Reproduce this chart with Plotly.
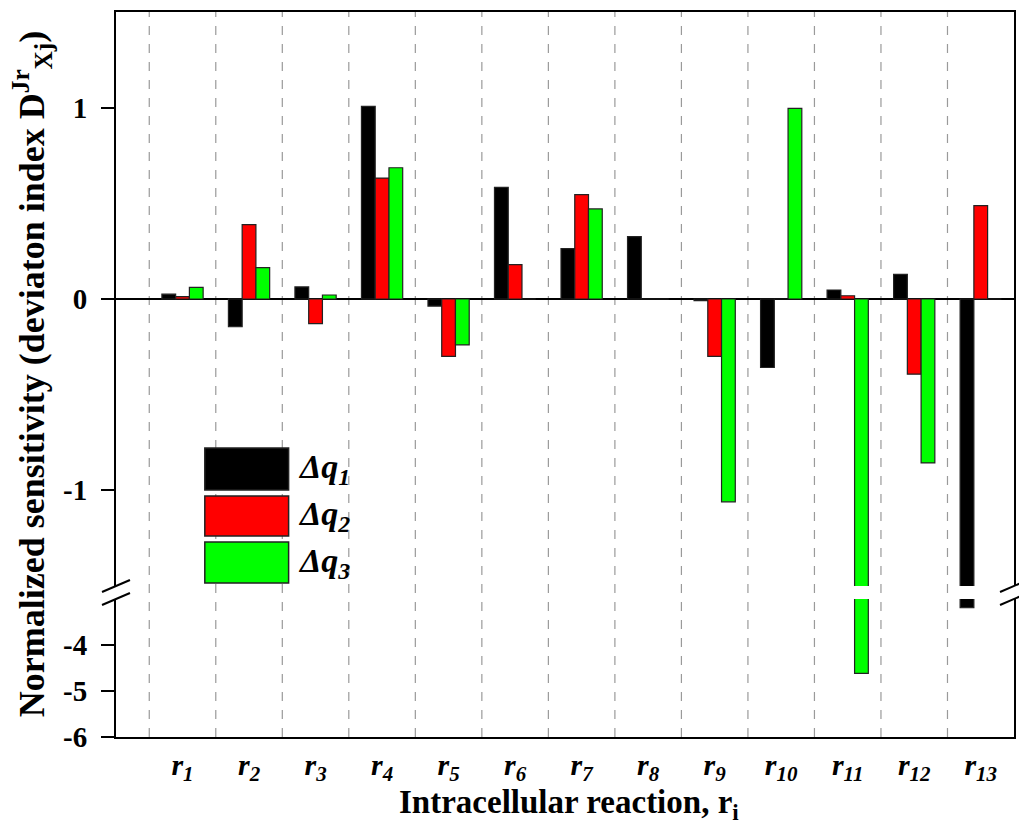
import plotly.graph_objects as go

# ---------------- data ----------------
categories = ["r1", "r2", "r3", "r4", "r5", "r6", "r7", "r8", "r9", "r10", "r11", "r12", "r13"]
tick_labels = ["<i>r<sub>%s</sub></i>" % c[1:] for c in categories]
q1 = [0.025, -0.145, 0.063, 1.007, -0.037, 0.583, 0.263, 0.326, -0.008, -0.358, 0.047, 0.129, -3.19]
q2 = [0.012, 0.389, -0.129, 0.632, -0.300, 0.180, 0.546, 0.0, -0.300, 0.0, 0.017, -0.393, 0.488]
q3 = [0.061, 0.164, 0.021, 0.686, -0.240, 0.0, 0.471, 0.0, -1.060, 0.996, -4.615, -0.857, 0.0]
series_names = ["Δq<sub>1</sub>", "Δq<sub>2</sub>", "Δq<sub>3</sub>"]
colors = ["#000000", "#FF0000", "#00FF00"]
upper_range = [-1.5, 1.5]
lower_range = [-6, -3]
upper_ticks = [-1, 0, 1]
lower_ticks = [-6, -5, -4]

# ---------------- geometry (pixels) ----------------
W, H = 1019, 827
ML, MR, MT, MB = 116, 3, 12, 90
PW, PH = W - ML - MR, H - MT - MB
upper_px, gap_px, lower_px = 574, 13, 138
lower_dom = [0, lower_px / PH]
upper_dom = [(lower_px + gap_px) / PH, 1]

FONT = "Liberation Serif"
x = list(range(1, len(categories) + 1))

fig = go.Figure()
for vals, name, col in zip([q1, q2, q3], series_names, colors):
    for xa, ya in (("x2", "y"), ("x", "y2")):
        fig.add_trace(go.Bar(
            x=x, y=vals, name=name, xaxis=xa, yaxis=ya,
            marker=dict(color=col, line=dict(color="#222222", width=1.2)),
            showlegend=False,
        ))

axis_line = dict(showline=True, linecolor="black", linewidth=2)
ytick_font = dict(family=FONT, size=29, weight="bold", color="black")
fig.update_layout(
    width=W, height=H,
    margin=dict(l=ML, r=MR, t=MT, b=MB),
    paper_bgcolor="white", plot_bgcolor="white",
    barmode="group", bargap=0.38, bargroupgap=0,
    font=dict(family=FONT, color="black"),
    xaxis=dict(domain=[0, 1], anchor="y2", range=[0, len(categories) + 0.5],
               tickvals=x, ticktext=tick_labels, ticks="", showgrid=False, zeroline=False,
               tickfont=dict(family=FONT, size=30, weight="bold"), ticklabelstandoff=0,
               **axis_line),
    xaxis2=dict(matches="x", anchor="y", side="top", showticklabels=False, ticks="",
                showgrid=False, zeroline=False, **axis_line),
    yaxis=dict(domain=upper_dom, anchor="x2", range=upper_range, tickvals=upper_ticks,
               ticktext=[str(v) for v in upper_ticks],
               ticks="outside", ticklen=13, tickwidth=2, tickcolor="black",
               showgrid=False, zeroline=True, zerolinecolor="black", zerolinewidth=2,
               mirror=True, tickfont=ytick_font, ticklabelstandoff=8, **axis_line),
    yaxis2=dict(domain=lower_dom, anchor="x", range=lower_range, tickvals=lower_ticks,
                ticktext=[str(v) for v in lower_ticks],
                ticks="outside", ticklen=13, tickwidth=2, tickcolor="black",
                showgrid=False, zeroline=False, mirror=True,
                tickfont=ytick_font, ticklabelstandoff=8, **axis_line),
)

shapes = []
# dashed category separators spanning the whole (broken) plot height
for i in range(len(categories)):
    xv = i + 0.5
    shapes.append(dict(type="line", xref="x", yref="paper", x0=xv, x1=xv, y0=0, y1=1,
                       line=dict(color="#9a9a9a", width=1.2, dash="dash"), layer="below"))

def px2paper(px, py):
    return (px - ML) / PW, (MT + PH - py) / PH

# break marks on left and right axis
gap_top = MT + upper_px
gap_bot = gap_top + gap_px
for cx in (ML, ML + PW):
    for cy in (gap_top, gap_bot):
        xa0, ya0 = px2paper(cx - 14, cy + 6)
        xa1, ya1 = px2paper(cx + 14, cy - 6)
        shapes.append(dict(type="line", xref="paper", yref="paper", x0=xa0, y0=ya0,
                           x1=xa1, y1=ya1, line=dict(color="black", width=2)))

# custom legend with large swatches
annotations = []
leg_x0, leg_x1 = 205, 289
leg_rows = [(448, 490), (496, 536), (542, 583)]
for (ytop, ybot), name, col in zip(leg_rows, series_names, colors):
    x0, y0 = px2paper(leg_x0, ybot)
    x1, y1 = px2paper(leg_x1, ytop)
    shapes.append(dict(type="rect", xref="paper", yref="paper", x0=x0, x1=x1, y0=y0, y1=y1,
                       fillcolor=col, line=dict(color="#222222", width=1.5)))
    tx, ty = px2paper(296, (ytop + ybot) / 2)
    annotations.append(dict(text="<b><i>%s</i></b>" % name, xref="paper", yref="paper",
                            x=tx, y=ty, xanchor="left", yanchor="middle", showarrow=False,
                            font=dict(family=FONT, size=34, color="black")))

# axis titles
tx, ty = px2paper(32, 374)
annotations.append(dict(text="<b>Normalized sensitivity (deviaton index D<sup>Jr</sup><sub>Xj</sub>)</b>",
                        xref="paper", yref="paper", x=tx, y=ty, textangle=-90,
                        xanchor="center", yanchor="middle", showarrow=False,
                        font=dict(family=FONT, size=36, color="black")))
tx, ty = px2paper(570, 804)
annotations.append(dict(text="<b>Intracellular reaction, r<sub>i</sub></b>",
                        xref="paper", yref="paper", x=tx, y=ty,
                        xanchor="center", yanchor="middle", showarrow=False,
                        font=dict(family=FONT, size=33, color="black")))

fig.update_layout(shapes=shapes, annotations=annotations)
fig.write_html("out.html")
